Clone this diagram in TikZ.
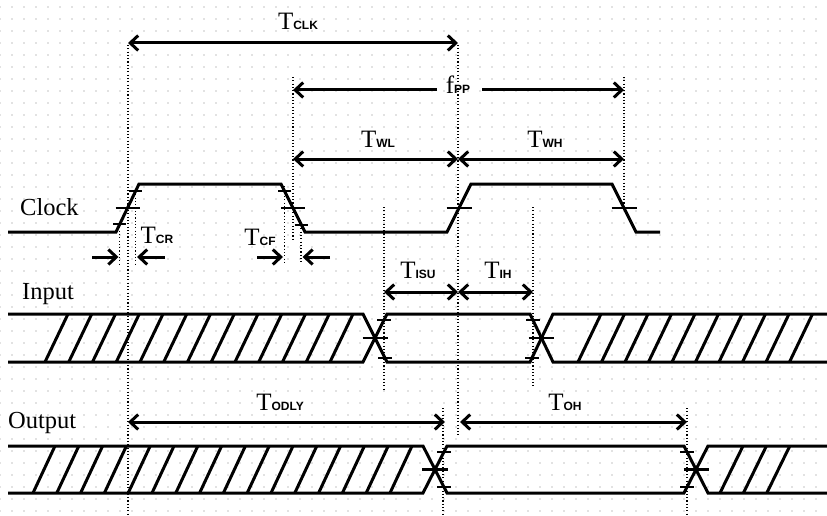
\documentclass[tikz,border=0pt]{standalone}
\usepackage{fontspec}
\setmainfont{Liberation Serif}
\setsansfont{Liberation Sans}
\usetikzlibrary{arrows.meta}
\definecolor{gridc}{RGB}{226,226,226}
\newcommand\smsub[1]{{\fontsize{12}{12}\selectfont\sffamily\bfseries #1}}
\newcommand\mytick[3]{\draw[tickline] ({#1-#3},#2) -- ({#1+#3},#2);}
\begin{document}
\begin{tikzpicture}[x=1pt,y=-1pt,
  wave/.style={line width=3pt, line join=miter},
  tickline/.style={line width=2.8pt},
  guide/.style={line width=1.1pt, dash pattern=on 1.1pt off 2.2pt},
  dim/.style={line width=3pt, {Straight Barb[length=8pt,width=15pt]}-{Straight Barb[length=8pt,width=15pt]}},
  sarr/.style={line width=3pt, -{Straight Barb[length=8pt,width=15pt]}},
  lbl/.style={font=\fontsize{25}{25}\selectfont, inner sep=0pt, anchor=base},
  sig/.style={font=\fontsize{24.5}{24.5}\selectfont, inner sep=0pt, anchor=base west}]
\useasboundingbox (0,0) rectangle (827,516);
\fill[white] (0,0) rectangle (827,516);
% background grid dots
\foreach \gx in {0,12,...,828}{
  \foreach \gy in {7,19,...,511}{
    \fill[gridc] (\gx-0.6,\gy-0.6) rectangle ++(1.2,1.2);
  }
}
% guide lines
\draw[guide] (128,45) -- (128,516);
\draw[guide] (119.8,224) -- (119.8,265);
\draw[guide] (135.6,191) -- (135.6,265);
\draw[guide] (284.5,186) -- (284.5,262);
\draw[guide] (293,77) -- (293,240);
\draw[guide] (301,225) -- (301,262);
\draw[guide] (458,45) -- (458,435);
\draw[guide] (624,77) -- (624,210);
\draw[guide] (384,207) -- (384,390);
\draw[guide] (533,207) -- (533,388);
\draw[guide] (443,408) -- (443,516);
\draw[guide] (687,408) -- (687,516);
% signal names
\node[sig] (clk) at (20,215) {Clock};
\node[sig] (inp) at (22,299) {Input};
\node[sig] (out) at (8,428) {Output};
% clock waveform
\draw[wave] (8,232) -- (116,232) -- (139,184) -- (281,184) -- (305,232) -- (447,232) -- (471,184) -- (612,184) -- (636,232) -- (660,232);
\mytick{119.8}{224}{6.5}
\mytick{127.5}{208}{12}
\mytick{135.6}{191}{6.5}
\mytick{284.5}{191}{6.5}
\mytick{293}{208}{12}
\mytick{301}{225}{6.5}
\mytick{459}{208}{12.5}
\mytick{624}{208}{12.5}
% input bus
\draw[wave] (8,314) -- (363,314) -- (387,362) -- (530,362) -- (553,314) -- (827,314);
\draw[wave] (8,362) -- (363,362) -- (387,314) -- (530,314) -- (553,362) -- (827,362);
\foreach \i in {0,...,12}{\draw[wave] ({45+23.75*\i},362) -- ({68+23.75*\i},314);}
\foreach \i in {0,...,9}{\draw[wave] ({578+23.5*\i},362) -- ({601+23.5*\i},314);}
\mytick{384}{320}{7}
\mytick{375}{338}{12.5}
\mytick{385}{358}{7}
\mytick{533}{320}{7}
\mytick{541}{338}{12.5}
\mytick{532}{358}{7}
% output bus
\draw[wave] (8,446) -- (423,446) -- (447,493) -- (684,493) -- (708,446) -- (827,446);
\draw[wave] (8,493) -- (423,493) -- (447,446) -- (684,446) -- (708,493) -- (827,493);
\foreach \i in {0,...,15}{\draw[wave] ({33+23.8*\i},493) -- ({55+23.8*\i},446);}
\foreach \i in {0,1,2}{\draw[wave] ({720+23.4*\i},493) -- ({743+23.4*\i},446);}
\mytick{444}{452}{7}
\mytick{435}{469.5}{13}
\mytick{444}{487}{7}
\mytick{687}{452}{7}
\mytick{696}{469.5}{12.5}
\mytick{687}{487}{7}
% dimension coordinates
\coordinate (clkA) at (128,43);
\coordinate (clkB) at (458,43);
\coordinate (ppA) at (293,90);
\coordinate (ppL) at (437,90);
\coordinate (ppR) at (482,90);
\coordinate (ppB) at (624,90);
\coordinate (wA) at (293,159);
\coordinate (wM) at (458,159);
\coordinate (wB) at (624,159);
\coordinate (crA) at (92,257);
\coordinate (crAt) at (118.5,257);
\coordinate (crB) at (165,257);
\coordinate (crBt) at (137,257);
\coordinate (cfA) at (257,257);
\coordinate (cfAt) at (283,257);
\coordinate (cfB) at (330,257);
\coordinate (cfBt) at (302.5,257);
\coordinate (iA) at (384,292);
\coordinate (iM) at (458,292);
\coordinate (iB) at (533,292);
\coordinate (oA) at (128,422);
\coordinate (oB) at (445,422);
\coordinate (oC) at (460,422);
\coordinate (oD) at (687,422);
% dimension arrows
\draw[dim] (clkA) -- (clkB);
\draw[sarr] (ppL) -- (ppA);
\draw[sarr] (ppR) -- (ppB);
\draw[dim] (wA) -- (wM);
\draw[dim] (wM) -- (wB);
\draw[sarr] (crA) -- (crAt);
\draw[sarr] (crB) -- (crBt);
\draw[sarr] (cfA) -- (cfAt);
\draw[sarr] (cfB) -- (cfBt);
\draw[dim] (iA) -- (iM);
\draw[dim] (iM) -- (iB);
\draw[dim] (oA) -- (oB);
\draw[dim] (oC) -- (oD);
% labels
\node[lbl] (tclk) at (298,30) {T\smsub{CLK}};
\node[lbl] (fpp) at (458,94) {f\smsub{PP}};
\node[lbl] (twl) at (378,148) {T\smsub{WL}};
\node[lbl] (twh) at (545,148) {T\smsub{WH}};
\node[lbl] (tcr) at (157,243) {T\smsub{CR}};
\node[lbl] (tcf) at (260,245) {T\smsub{CF}};
\node[lbl] (tisu) at (418,278) {T\smsub{ISU}};
\node[lbl] (tih) at (498,278) {T\smsub{IH}};
\node[lbl] (todly) at (280,410) {T\smsub{ODLY}};
\node[lbl] (toh) at (565,410) {T\smsub{OH}};
\end{tikzpicture}
\end{document}
